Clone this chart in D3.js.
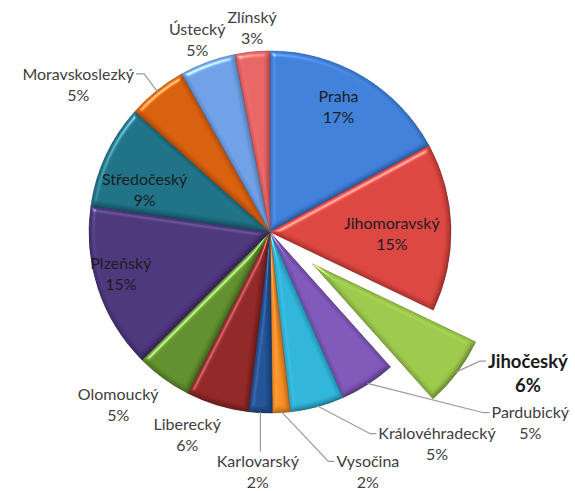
<!DOCTYPE html>
<html><head><meta charset="utf-8">
<script src="https://cdn.jsdelivr.net/npm/d3@7/dist/d3.min.js"></script>
<style>
html,body{margin:0;padding:0;background:#fff;}
svg{display:block;}
</style></head>
<body>
<svg id="chart" width="575" height="491"></svg>
<script>
// ---- data ----
const categories = ["Praha","Jihomoravský","Jihočeský","Pardubický","Královéhradecký","Vysočina","Karlovarský","Liberecký","Olomoucký","Plzeňský","Středočeský","Moravskoslezký","Ústecký","Zlínský"];
const values = [17.1,15.0,6.3,5.0,4.8,1.6,2.1,5.6,5.0,14.8,9.3,5.3,5.0,3.1];
const colors = ["#3c7bd4","#d6423d","#97c347","#7a53b3","#2cafd3","#f08a22","#1e4e90","#8c2424","#5c8a2a","#483376","#1b6c80","#d25b0b","#6a9be0","#e06160"];
const exploded = ["Jihočeský"];

// ---- layout (not data) ----
const cx = 270, cy = 232, R = 181, explodeDist = 53;
// outside labels: polar position of label block centre (deg clockwise from top, radius in px)
const outside = {
  "Zlínský":        {a: 355,   r: 205, line: false},
  "Ústecký":        {a: 339.3, r: 206, line: false},
  "Moravskoslezký": {a: 307.6, r: 242, line: true, side: "left"},
  "Olomoucký":      {a: 221.3, r: 230, line: false},
  "Liberecký":      {a: 202.2, r: 219, line: false},
  "Karlovarský":    {a: 182.9, r: 240, line: true, side: "below"},
  "Vysočina":       {a: 157.8, r: 259, line: true, side: "right"},
  "Královéhradecký":{a: 141.8, r: 270, line: true, side: "right"},
  "Pardubický":     {a: 126.3, r: 323, line: true, side: "right"},
  "Jihočeský":      {a: 118.7, r: 294, line: true, side: "right", bold: true}
};
const insideNudge = {
  "Praha": [0, -10], "Jihomoravský": [-12, 5], "Středočeský": [-4, 14], "Plzeňský": [-22, 0]
};

const svg = d3.select("#chart");
const defs = svg.append("defs");
const f = defs.append("filter").attr("id","bevel").attr("x","-10%").attr("y","-10%").attr("width","120%").attr("height","120%")
  .attr("color-interpolation-filters","sRGB");
f.append("feGaussianBlur").attr("in","SourceAlpha").attr("stdDeviation",2.5).attr("result","blur");
const sp = f.append("feSpecularLighting").attr("in","blur").attr("surfaceScale",4).attr("specularConstant",0.9)
  .attr("specularExponent",30).attr("lighting-color","#ffffff").attr("result","spec");
sp.append("feDistantLight").attr("azimuth",235).attr("elevation",40);
f.append("feComposite").attr("in","spec").attr("in2","SourceAlpha").attr("operator","in").attr("result","specOut");
const df = f.append("feDiffuseLighting").attr("in","blur").attr("surfaceScale",4).attr("diffuseConstant",1)
  .attr("lighting-color","#ffffff").attr("result","diff");
df.append("feDistantLight").attr("azimuth",235).attr("elevation",60);
f.append("feComposite").attr("in","diff").attr("in2","SourceAlpha").attr("operator","in").attr("result","diffOut");
f.append("feComposite").attr("in","SourceGraphic").attr("in2","diffOut").attr("operator","arithmetic")
  .attr("k1",0.4).attr("k2",0.66).attr("k3",0).attr("k4",0).attr("result","shaded");
f.append("feComposite").attr("in","shaded").attr("in2","specOut").attr("operator","arithmetic")
  .attr("k1",0).attr("k2",1).attr("k3",0.5).attr("k4",0);

const total = d3.sum(values);
const data = categories.map((c,i)=>({name:c, value:values[i], color:colors[i]}));
const pie = d3.pie().sort(null).value(d=>d.value).startAngle(0).endAngle(2*Math.PI);
const arcs = pie(data);
const arc = d3.arc().innerRadius(0).outerRadius(R);

const g = svg.append("g").attr("transform",`translate(${cx},${cy})`);
function offsetOf(d){
  if(!exploded.includes(d.data.name)) return [0,0];
  const a=(d.startAngle+d.endAngle)/2;
  return [Math.sin(a)*explodeDist, -Math.cos(a)*explodeDist];
}
g.selectAll("path.slice").data(arcs).join("path")
  .attr("class","slice")
  .attr("transform",d=>{const o=offsetOf(d);return `translate(${o[0]},${o[1]})`;})
  .attr("d",arc)
  .attr("fill",d=>d.data.color)
  .attr("stroke",d=>d3.color(d.data.color).darker(0.7))
  .attr("stroke-width",0.7)
  .attr("filter","url(#bevel)");

const font = "Lato, 'Open Sans', sans-serif";
const pct = d => Math.round(d.value/total*100) + "%";
const lineH = 21;

const lg = svg.append("g");
arcs.forEach(d=>{
  const name = d.data.name;
  const mid = (d.startAngle+d.endAngle)/2;
  const o = outside[name];
  let x, y;
  if(o){
    const a = o.a*Math.PI/180;
    x = cx + Math.sin(a)*o.r; y = cy - Math.cos(a)*o.r;
  } else {
    const n = insideNudge[name]||[0,0];
    x = cx + Math.sin(mid)*R*0.74 + n[0];
    y = cy - Math.cos(mid)*R*0.74 + n[1];
  }
  const bold = o && o.bold;
  const fs = bold ? 18.5 : 16;
  const t = lg.append("text")
    .attr("text-anchor","middle")
    .attr("font-family",font)
    .attr("font-size",fs)
    .attr("font-weight",bold?"bold":"normal")
    .attr("fill", o ? (bold?"#1a1a1a":"#404040") : "#1c1c24");
  const lh = bold ? 24 : lineH;
  const t1 = t.append("tspan").attr("x",x).attr("y",y - lh/2 + fs*0.36).text(name);
  t.append("tspan").attr("x",x).attr("y",y + lh/2 + fs*0.36).text(pct(d.data));
  if(o && o.line){
    const off = offsetOf(d);
    const ex = cx + off[0] + Math.sin(mid)*(R-1);
    const ey = cy + off[1] - Math.cos(mid)*(R-1);
    const w = t1.node().getComputedTextLength();
    const ly = y - lh/2;
    let pts;
    if(o.side==="right"){
      const tx = x - w/2 - 2;
      pts = [[ex,ey],[tx-6,ly],[tx,ly]];
    } else if(o.side==="left"){
      const tx = x + w/2 + 2;
      pts = [[tx,ly],[tx+8,ly],[ex,ey]];
    } else {
      pts = [[ex,ey],[ex, y - lh/2 - fs*0.6]];
    }
    lg.insert("path","text").attr("d",d3.line()(pts)).attr("fill","none").attr("stroke","#9a9a9a").attr("stroke-width",1.2);
  }
});
</script>
</body></html>
